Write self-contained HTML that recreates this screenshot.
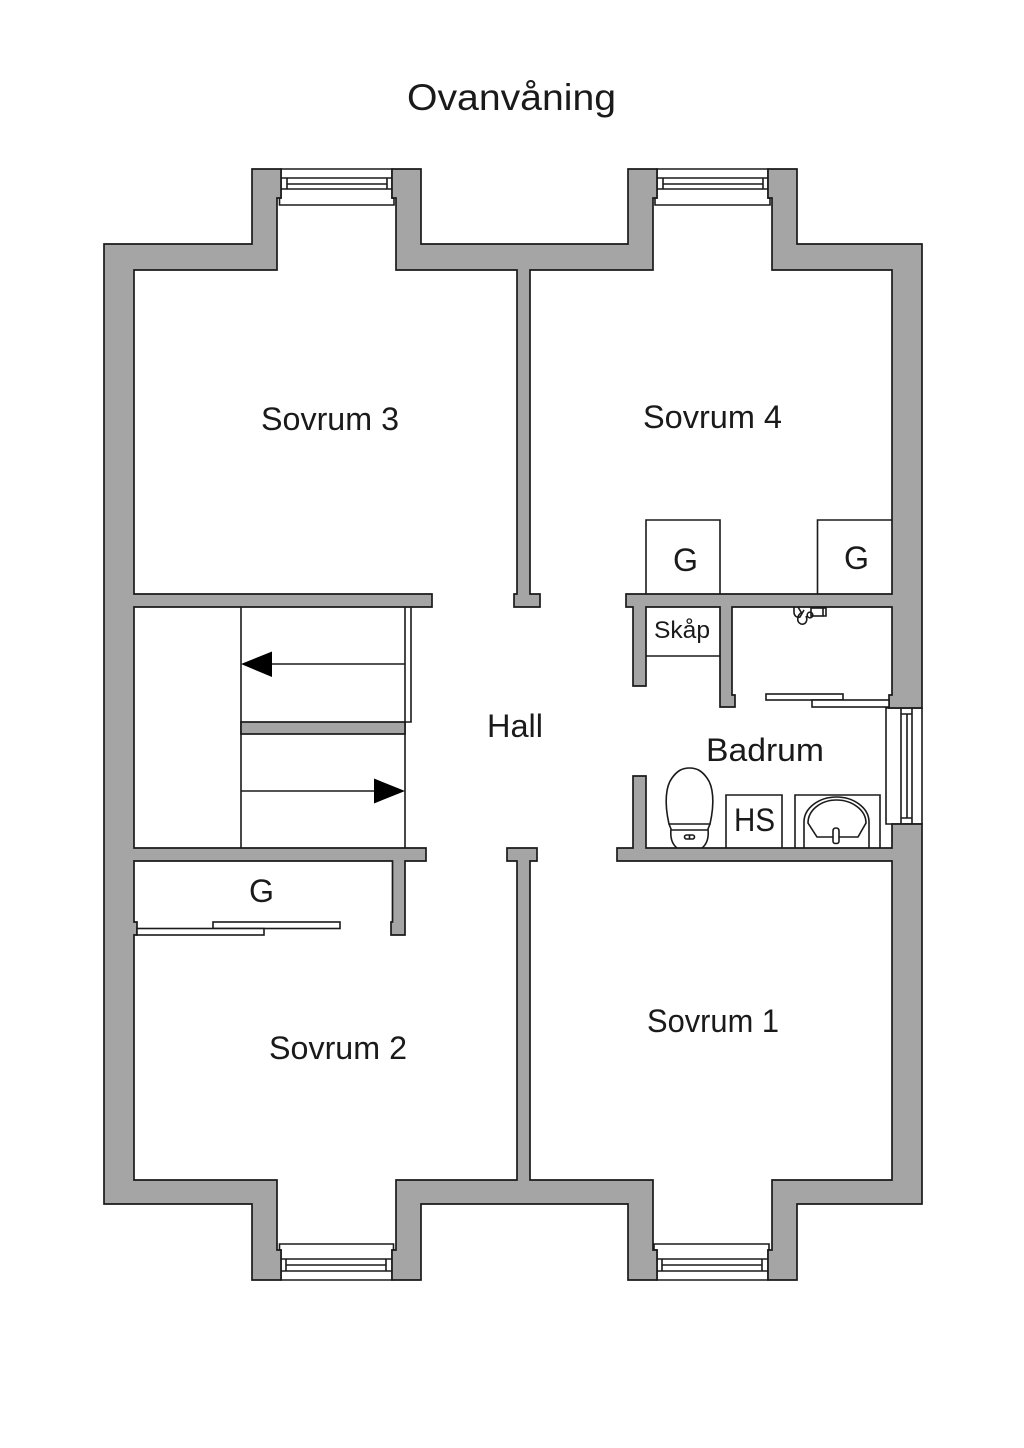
<!DOCTYPE html>
<html lang="sv">
<head>
<meta charset="utf-8">
<title>Ovanvåning</title>
<style>
html,body{margin:0;padding:0;background:#fff;width:1024px;height:1448px;overflow:hidden}
svg{display:block}
text{font-family:"Liberation Sans",sans-serif;fill:#1a1a1a}
.w{fill:#a5a5a5;stroke:#1a1a1a;stroke-width:1.7;stroke-linejoin:miter}
.l{fill:none;stroke:#1a1a1a;stroke-width:1.6}
.f{fill:#fff;stroke:#1a1a1a;stroke-width:1.6}
</style>
</head>
<body>
<svg xmlns="http://www.w3.org/2000/svg" width="1024" height="1448" viewBox="0 0 1024 1448">
<rect width="1024" height="1448" fill="#fff"/>

<!-- windows top -->
<g class="l">
<path class="f" d="M281 169H392V198H394V205H279.500V198H281Z"/>
<path d="M281 178H392M281 189H392M287 178V189M387 178V189M287 184H387"/>
<path class="f" d="M657 169H768V198H770V205H655V198H657Z"/>
<path d="M657 178H768M657 189H768M663 178V189M763 178V189M663 184H763"/>
<!-- windows bottom -->
<path class="f" d="M279.500 1244H393.500V1250H392V1280H281V1250H279.500Z"/>
<path d="M281 1259H392M281 1271H392M286 1259V1271M386 1259V1271M286 1265H386"/>
<path class="f" d="M654 1244H769V1250H768V1280H657V1250H654Z"/>
<path d="M657 1259H768M657 1271H768M662 1259V1271M762 1259V1271M662 1265H762"/>
<!-- window right -->
<path class="f" d="M886 708H922V824H886Z"/>
<path d="M901 708V824M912 708V824M901 714H912M901 818H912M907 714V818"/>
</g>

<!-- walls -->
<path class="w" d="M281 169H252V244H104V1204H252V1280H281V1250H277V1180H134V935H137V922H134V861H392.500V922H391V935H405V861H426V848H134V607H432V594H134V270H277V198H281Z"/>
<path class="w" d="M392 169H421V244H628V169H657V198H653V270H530V594H540V607H514V594H517V270H396V198H392Z"/>
<path class="w" d="M768 169H797V244H922V708H889V695H892V607H732V695H735V707H720V607H646V686H633V607H626V594H892V270H772V198H768Z"/>
<path class="w" d="M892 824H922V1204H797V1280H768V1250H772V1180H892V861H617V848H633V776H646V848H892Z"/>
<path class="w" d="M392 1280H421V1204H628V1280H657V1250H653V1180H530V861H537V848H507V861H517V1180H396V1250H392Z"/>

<!-- stairs -->
<g class="l">
<path d="M241 607V848M405 607V848M411 607V722H405"/>
<path d="M405 664H272M241 791H374"/>
</g>
<rect x="241" y="722" width="164" height="12" class="w"/>
<polygon points="241,664 272,651.500 272,677" fill="#000"/>
<polygon points="405,791 374,778.500 374,803.500" fill="#000"/>

<!-- sliding doors -->
<rect x="213" y="922" width="127" height="6.500" class="f"/>
<rect x="137" y="928.500" width="127" height="6.500" class="f"/>
<rect x="766" y="694" width="77" height="6" class="f"/>
<rect x="812" y="700" width="77" height="7" class="f"/>

<!-- wardrobes -->
<g class="l">
<path d="M646 594V520H720V594"/>
<path d="M817.500 594V520H892"/>
<path d="M646 656H720"/>
<path d="M726 848V795H782V848"/>
<path d="M795 848V795H880V848"/>
</g>

<!-- toilet -->
<g class="l">
<path d="M669 824C664 802 666 786 672 778C677 771 682 768 689.500 768C697 768 702 771 707 778C713 786 715 802 710 824Z"/>
<path d="M669 824L671 829C670 838 672 844 677 848M710 824L708 829C709 838 707 844 702 848M671 830H708"/>
<rect x="684.500" y="835" width="10" height="4" rx="2"/>
<path d="M689.500 835V839"/>
</g>

<!-- sink -->
<g class="l">
<path d="M804 848V822C804 808 819 797 836.500 797C854 797 869 808 869 822V848"/>
<path d="M808 823C808 810 821 800 836.500 800C852 800 866 810 866 823L858 837H817Z"/>
<path d="M833 831C833 829 834 828 836 828C838 828 839 829 839 831V841C839 843 838 843.500 836 843.500C834 843.500 833 843 833 841Z" fill="#fff"/>
</g>

<!-- tap -->
<g class="l" stroke-width="1.300">
<path d="M794 607V612C794 616 797 618 800 617L804 610M798 607L801 612"/>
<path d="M802 612C797 615 796 622 801 624C806 625 808 620 806 616"/>
<circle cx="810" cy="615" r="2.800"/>
<rect x="811" y="608" width="12" height="8"/>
<path d="M823 608H826V616H823"/>
</g>

<!-- labels -->
<text x="407" y="110" font-size="37" textLength="209" lengthAdjust="spacingAndGlyphs">Ovanvåning</text>
<text x="261" y="430" font-size="32" textLength="138" lengthAdjust="spacingAndGlyphs">Sovrum 3</text>
<text x="643" y="428" font-size="32" textLength="139" lengthAdjust="spacingAndGlyphs">Sovrum 4</text>
<text x="487" y="737" font-size="32" textLength="56" lengthAdjust="spacingAndGlyphs">Hall</text>
<text x="706" y="761" font-size="32" textLength="118" lengthAdjust="spacingAndGlyphs">Badrum</text>
<text x="647" y="1032" font-size="32" textLength="132" lengthAdjust="spacingAndGlyphs">Sovrum 1</text>
<text x="269" y="1059" font-size="32" textLength="138" lengthAdjust="spacingAndGlyphs">Sovrum 2</text>
<text x="654" y="638" font-size="24" textLength="56" lengthAdjust="spacingAndGlyphs">Skåp</text>
<text x="673" y="571" font-size="32" textLength="25" lengthAdjust="spacingAndGlyphs">G</text>
<text x="844" y="569" font-size="32" textLength="25" lengthAdjust="spacingAndGlyphs">G</text>
<text x="249" y="902" font-size="32" textLength="25" lengthAdjust="spacingAndGlyphs">G</text>
<text x="734" y="831" font-size="32" textLength="41" lengthAdjust="spacingAndGlyphs">HS</text>
</svg>
</body>
</html>
